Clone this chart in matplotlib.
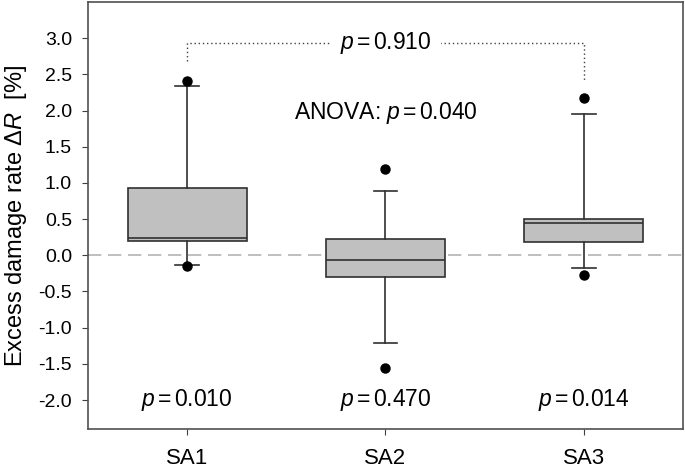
import matplotlib
matplotlib.use('Agg')
import matplotlib.pyplot as plt

plt.rcParams['font.family'] = ['Liberation Sans', 'DejaVu Sans']
plt.rcParams['mathtext.fontset'] = 'custom'
plt.rcParams['mathtext.rm'] = 'Liberation Sans'
plt.rcParams['mathtext.it'] = 'Liberation Sans:italic'

# box statistics
groups = ['SA1', 'SA2', 'SA3']
q1 = [0.196, -0.305, 0.188]
med = [0.243, -0.070, 0.450]
q3 = [0.934, 0.227, 0.505]
whislo = [-0.140, -1.217, -0.181]
whishi = [2.337, 0.883, 1.956]
fliers = [[2.41, -0.153], [1.19, -1.56], [2.17, -0.268]]
group_p = ['0.010', '0.470', '0.014']
pair_p = '0.910'
anova_p = '0.040'

stats = []
for i, g in enumerate(groups):
    stats.append({'label': g, 'q1': q1[i], 'med': med[i], 'q3': q3[i],
                  'whislo': whislo[i], 'whishi': whishi[i], 'fliers': fliers[i]})

fig = plt.figure(figsize=(6.85, 4.69), dpi=100)
ax = fig.add_axes([0.1285, 0.0853, 0.8685, 0.9104])

pos = [1, 2, 3]
ax.axhline(0, color='#b4b4b4', lw=1.2, dashes=(8, 4), zorder=0)
ax.bxp(stats, positions=pos, widths=0.6, patch_artist=True, showfliers=True,
       boxprops=dict(facecolor='#c0c0c0', edgecolor='#303030', lw=1.2),
       medianprops=dict(color='#303030', lw=1.2),
       whiskerprops=dict(color='#303030', lw=1.2),
       capprops=dict(color='#303030', lw=1.2),
       capwidths=0.12,
       flierprops=dict(marker='o', markerfacecolor='black', markeredgecolor='black',
                       markersize=6.5))


def ptxt(v):
    return r'$p\,$=$\,$' + v


# pairwise comparison bracket SA1 vs SA3
yb = 2.94
ax.plot([1, 1, 3, 3], [2.69, yb, yb, 2.41], color='#404040', lw=1.0, ls=(0, (1, 2)))
ax.text(2, yb, ptxt(pair_p), ha='center', va='center', fontsize=16.5,
        bbox=dict(facecolor='white', edgecolor='none', pad=7))
ax.text(2, 1.97, 'ANOVA: ' + ptxt(anova_p), ha='center', va='center', fontsize=16.5)

for i, p in enumerate(group_p):
    ax.text(pos[i], -2.0, ptxt(p), ha='center', va='center', fontsize=16.5)

ax.set_xlim(0.5, 3.5)
ax.set_ylim(-2.4, 3.5)
ax.set_yticks([-2.0, -1.5, -1.0, -0.5, 0.0, 0.5, 1.0, 1.5, 2.0, 2.5, 3.0])
ax.set_yticklabels(['%.1f' % v for v in ax.get_yticks()])
ax.set_xticks(pos)
ax.set_xticklabels(groups)
ax.tick_params(axis='y', labelsize=14, direction='out', length=4.5, pad=7, color='#404040')
ax.tick_params(axis='x', labelsize=16, direction='out', length=4.5, pad=9, color='#404040')
for s in ax.spines.values():
    s.set_color('#505050')
    s.set_linewidth(1.2)

ax.set_ylabel(r'Excess damage rate $\Delta R$  [%]', fontsize=17)
ax.yaxis.set_label_coords(-0.1, 0.5)

fig.savefig('out.png', dpi=100)
